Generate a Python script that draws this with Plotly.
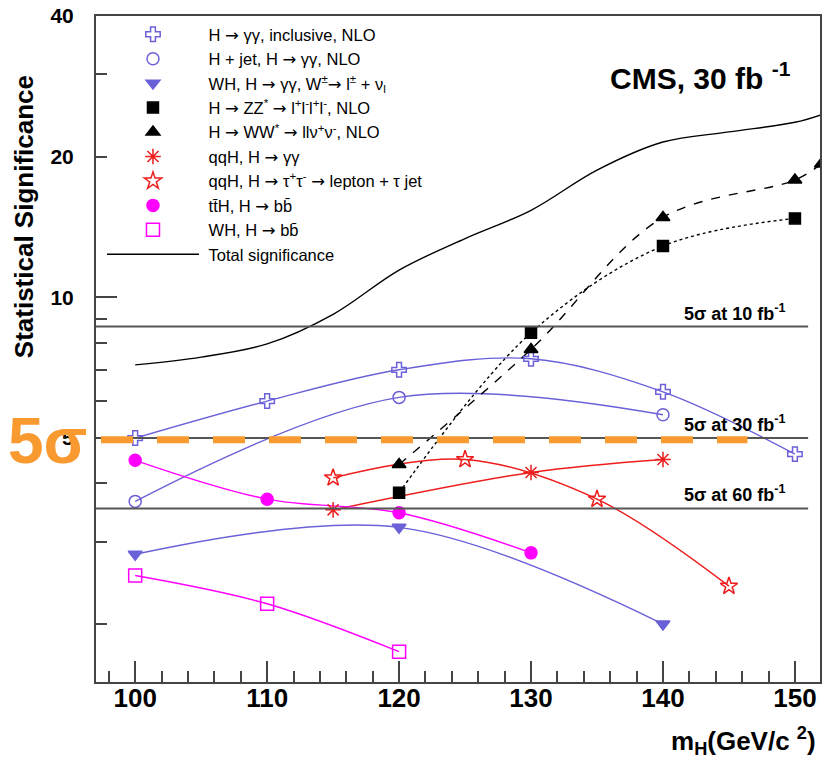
import plotly.graph_objects as go
import numpy as np

# ---------------- data ----------------
mh_incl = [100, 110, 120, 130, 140, 150]
sig_incl = [5.0, 6.0, 7.0, 7.39, 6.28, 4.62]

mh_jet = [100, 120, 140]
sig_jet = [3.66, 6.11, 5.61]

mh_whgg = [100, 120, 140]
sig_whgg = [2.82, 3.22, 2.0]

mh_zz = [120, 130, 140, 150]
sig_zz = [3.82, 8.40, 12.88, 14.76]

mh_ww = [120, 130, 140, 150, 152]
sig_ww = [4.39, 7.74, 14.83, 17.83, 19.3]

mh_qqgg = [115, 130, 140]
sig_qqgg = [3.51, 4.22, 4.50]

mh_qqtt = [115, 125, 135, 145]
sig_qqtt = [4.11, 4.50, 3.70, 2.41]

mh_tth = [100, 110, 120, 130]
sig_tth = [4.48, 3.70, 3.46, 2.84]

mh_whbb = [100, 110, 120]
sig_whbb = [2.54, 2.21, 1.745]

mh_total = [100, 105, 110, 115, 120, 125, 130, 135, 140, 145, 150, 152]
sig_total = [7.17, 7.45, 7.95, 9.2, 11.44, 13.36, 15.36, 18.72, 21.5, 22.6, 23.7, 24.6]

x_ticks = [100, 110, 120, 130, 140, 150]
y_ticks = [5, 10, 20, 40]
y_minor = [2, 3, 4, 5, 6, 7, 8, 9, 20, 30]

ref_lumi_labels = ["5σ at 10 fb<sup>-1</sup>", "5σ at 30 fb<sup>-1</sup>", "5σ at 60 fb<sup>-1</sup>"]
ref_levels = [5 * np.sqrt(3), 5.0, 5 / np.sqrt(2)]
ref_x = [97.03, 151.0]

AR = "<span style=\"font-family:'DejaVu Sans'\">→</span>"
NB = "\u00a0"
names = [
    f"H {AR} γγ, inclusive, NLO",
    f"H + jet, H {AR} γγ, NLO",
    f"WH, H {AR} γγ, W<sup>±</sup>{AR} l<sup>±</sup> + ν<sub>l</sub>",
    f"H {AR} ZZ<sup>*</sup> {AR} l<sup>+</sup>l<sup>-</sup>l<sup>+</sup>l<sup>-</sup>, NLO",
    f"H {AR} WW<sup>*</sup> {AR} llν<sup>+</sup>ν<sup>-</sup>, NLO",
    f"qqH, H {AR} γγ",
    f"qqH, H {AR} τ<sup>+</sup>τ<sup>-</sup> {AR} lepton + τ jet",
    f"tt̄H, H {AR} bb̄",
    f"WH, H {AR} bb̄",
    "Total significance",
]

BLUE = "#6a60d8"
RED = "#ee1c1c"
MAG = "#ff00ff"
BLK = "#000000"
ORANGE = "#f99a30"

series = [
    (mh_incl, sig_incl, BLUE, "cross-open", 12, "solid"),
    (mh_jet, sig_jet, BLUE, "circle-open", 12, "solid"),
    (mh_whgg, sig_whgg, BLUE, "triangle-down", 12, "solid"),
    (mh_zz, sig_zz, BLK, "square", 11, "dot"),
    (mh_ww, sig_ww, BLK, "triangle-up", 12, "dash"),
    (mh_qqgg, sig_qqgg, RED, "asterisk-open", 13, "solid"),
    (mh_qqtt, sig_qqtt, RED, "star-open", 13, "solid"),
    (mh_tth, sig_tth, MAG, "circle", 12, "solid"),
    (mh_whbb, sig_whbb, MAG, "square-open", 13, "solid"),
]

fig = go.Figure()

for i, (xs, ys, col, sym, sz, dash) in enumerate(series):
    fig.add_trace(go.Scatter(x=xs, y=ys, mode="lines",
                             line=dict(color=col, width=1.4, shape="spline", smoothing=1, dash=dash),
                             showlegend=False, hoverinfo="skip"))
for i, (xs, ys, col, sym, sz, dash) in enumerate(series):
    fig.add_trace(go.Scatter(x=xs, y=ys, mode="markers", name=NB + names[i],
                             marker=dict(symbol=sym, size=sz, color=col,
                                         line=dict(color=col, width=1.5))))

fig.add_trace(go.Scatter(x=mh_total, y=sig_total, mode="lines", name=NB + names[-1],
                         line=dict(color=BLK, width=1.4, shape="spline", smoothing=1)))

# reference 5 sigma lines (on the overlay axes, which share the same ranges)
for lvl in ref_levels:
    fig.add_trace(go.Scatter(x=ref_x, y=[lvl, lvl], mode="lines", xaxis="x2", yaxis="y2",
                             line=dict(color="#555555", width=2),
                             showlegend=False, hoverinfo="skip"))

W, H = 825, 761
L, R, T, B = 96, 3, 16, 79
pw, ph = W - L - R, H - T - B


def px_x(px):
    return (px - L) / pw


def px_y(py):
    return 1 - (py - T) / ph


yr = [np.log10(1.503), np.log10(40.01)]
xr = [97.03, 151.9]

fig.update_layout(
    width=W, height=H,
    margin=dict(l=L, r=R, t=T, b=B, pad=0),
    paper_bgcolor="white", plot_bgcolor="white",
    font=dict(family="Liberation Sans, Arial, sans-serif", color="black"),
    showlegend=True,
    legend=dict(x=px_x(102), y=px_y(17), xanchor="left", yanchor="top",
                bgcolor="rgba(0,0,0,0)", font=dict(size=16.5, color="black"),
                itemwidth=92, tracegroupgap=0),
    xaxis=dict(range=xr, showgrid=False, zeroline=False,
               showline=True, linecolor="#444444", linewidth=2, mirror=True,
               ticks="inside", ticklen=21, tickwidth=1.5, tickcolor="#444444",
               tickvals=x_ticks, showticklabels=False,
               minor=dict(dtick=2, tick0=100, ticks="inside", ticklen=11, tickwidth=1.5,
                          tickcolor="#444444", showgrid=False)),
    # label-only axis, raised slightly so tick labels sit as close to the frame as in the original
    xaxis2=dict(range=xr, overlaying="x", anchor="free", side="bottom", position=0.0025,
                showgrid=False, zeroline=False, showline=False, ticks="",
                tickvals=x_ticks, tickfont=dict(size=26, weight="bold")),
    yaxis=dict(type="log", range=yr, showgrid=False, zeroline=False,
               showline=True, linecolor="#444444", linewidth=2, mirror=True,
               ticks="", tickvals=y_ticks, ticktext=[str(v) for v in y_ticks],
               tickfont=dict(size=21, weight="bold"), ticklabelstandoff=16,
               minor=dict(tickvals=y_minor, ticks="inside",
                          ticklen=11, tickwidth=1.5, tickcolor="#444444", showgrid=False)),
    yaxis2=dict(type="log", range=yr, overlaying="y", side="left", anchor="x",
                showgrid=False, zeroline=False, showline=False, showticklabels=False,
                tickvals=[10], ticks="inside", ticklen=21, tickwidth=1.5, tickcolor="#444444"),
)

# orange highlight line at 5 sigma
fig.add_shape(type="line", xref="x", yref="y", x0=97.41, x1=146.4, y0=4.96, y1=4.96,
              line=dict(color=ORANGE, width=7, dash="32px,24px"), layer="above")

ann = []
ann.append(dict(text="<b>5σ</b>", x=px_x(47), y=px_y(441), xref="paper", yref="paper",
                xanchor="center", yanchor="middle", showarrow=False,
                font=dict(size=64, color=ORANGE)))
ann.append(dict(text="<b>CMS, 30 fb <sup>-1</sup></b>", x=px_x(702), y=px_y(76), xref="paper",
                yref="paper", xanchor="center", yanchor="middle", showarrow=False,
                font=dict(size=30, color="black")))
for lab, lvl in zip(ref_lumi_labels, ref_levels):
    ann.append(dict(text="<b>" + lab + "</b>", x=px_x(790), y=np.log10(lvl), xref="paper", yref="y",
                    xanchor="right", yanchor="bottom", yshift=1, showarrow=False,
                    font=dict(size=18, color="black")))
ann.append(dict(text="<b>Statistical Significance</b>", x=px_x(24), y=px_y(217), xref="paper",
                yref="paper", xanchor="center", yanchor="middle", textangle=-90, showarrow=False,
                font=dict(size=26, color="black")))
ann.append(dict(text="<b>m<sub>H</sub>(GeV/c <sup>2</sup>)</b>", x=px_x(820), y=px_y(761),
                xref="paper", yref="paper", xanchor="right", yanchor="bottom", showarrow=False,
                font=dict(size=26, color="black")))
fig.update_layout(annotations=ann)

fig.write_html("out.html")
